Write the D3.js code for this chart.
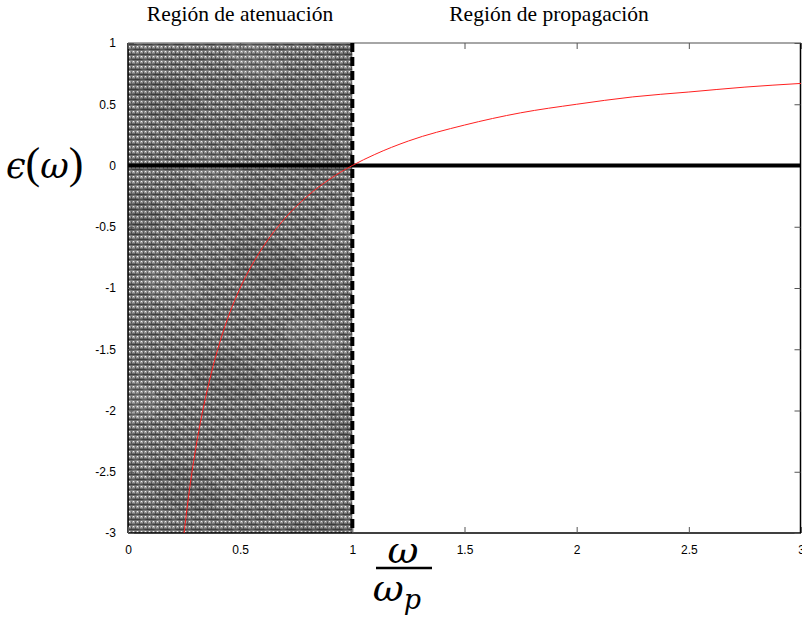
<!DOCTYPE html>
<html>
<head>
<meta charset="utf-8">
<script src="https://cdn.jsdelivr.net/npm/d3@7"></script>
<style>
  body { margin: 0; background: #fff; }
  svg { display: block; }
</style>
</head>
<body>
<div id="chart"></div>
<script>
// Permittivity curve
const omegaRatio = [0.25, 0.27, 0.3, 0.33, 0.36, 0.4, 0.45, 0.5, 0.6, 0.7, 0.8, 0.9, 1.0, 1.1, 1.25, 1.5, 1.75, 2.0, 2.25, 2.5, 2.75, 3.0]
const epsilonValues = [-3.0, -2.7, -2.33, -2.03, -1.78, -1.5, -1.22, -1.0, -0.67, -0.43, -0.25, -0.11, 0.0, 0.09, 0.2, 0.33, 0.43, 0.5, 0.56, 0.6, 0.64, 0.67]

const xTicks = [0, 0.5, 1, 1.5, 2, 2.5, 3]
const yTicks = [1, 0.5, 0, -0.5, -1, -1.5, -2, -2.5, -3]
const regionTitles = ["Región de atenuación", "Región de propagación"]
const regionBounds = [[0, 1], [1, 3]]

const width = 802, height = 620
const margin = { top: 43, right: 1, bottom: 87, left: 128 }

const svg = d3.select("#chart").append("svg")
  .attr("width", width)
  .attr("height", height)

const x = d3.scaleLinear().domain([0, 3]).range([margin.left, width - margin.right])
const y = d3.scaleLinear().domain([-3, 1]).range([height - margin.bottom, margin.top])

// Woven fabric texture for the attenuation region
const defs = svg.append("defs")
const weave = defs.append("pattern")
  .attr("id", "weave")
  .attr("patternUnits", "userSpaceOnUse")
  .attr("width", 4).attr("height", 5)
weave.append("rect").attr("width", 4).attr("height", 5).attr("fill", "#6c6c6c")
weave.append("rect").attr("y", 4).attr("width", 4).attr("height", 1).attr("fill", "#3e3e3e")
weave.append("rect").attr("x", 0).attr("y", 1).attr("width", 3).attr("height", 2).attr("fill", "#989898")
weave.append("rect").attr("x", 1).attr("y", 1).attr("width", 1).attr("height", 1).attr("fill", "#f2f2f2")
weave.append("rect").attr("x", 3).attr("y", 2).attr("width", 1).attr("height", 2).attr("fill", "#505050")

const diag = defs.append("pattern")
  .attr("id", "diag")
  .attr("patternUnits", "userSpaceOnUse")
  .attr("width", 9).attr("height", 9)
  .attr("patternTransform", "rotate(35)")
diag.append("rect").attr("width", 9).attr("height", 3).attr("fill", "#ffffff").attr("opacity", 0.1)

const blotch = defs.append("pattern")
  .attr("id", "blotch")
  .attr("patternUnits", "userSpaceOnUse")
  .attr("width", 150).attr("height", 120)
  .attr("patternTransform", "rotate(20)")
blotch.append("ellipse").attr("cx", 40).attr("cy", 35).attr("rx", 38).attr("ry", 22).attr("fill", "#000").attr("opacity", 0.08)
blotch.append("ellipse").attr("cx", 110).attr("cy", 90).attr("rx", 30).attr("ry", 18).attr("fill", "#fff").attr("opacity", 0.07)

const attn = regionBounds[0]
;["url(#weave)", "url(#diag)", "url(#blotch)"].forEach(f => {
  svg.append("rect")
    .attr("x", x(attn[0]))
    .attr("y", y(1))
    .attr("width", x(attn[1]) - x(attn[0]))
    .attr("height", y(-3) - y(1))
    .attr("fill", f)
})

// Frame
const frame = svg.append("g")
frame.append("line").attr("x1", x(0)).attr("x2", x(3)).attr("y1", y(1)).attr("y2", y(1))
  .attr("stroke", "#888").attr("stroke-width", 1.5)
frame.append("line").attr("x1", x(3) - 0.5).attr("x2", x(3) - 0.5).attr("y1", y(1)).attr("y2", y(-3))
  .attr("stroke", "#000").attr("stroke-width", 1.5)
frame.append("line").attr("x1", x(0)).attr("x2", x(3)).attr("y1", y(-3)).attr("y2", y(-3))
  .attr("stroke", "#000").attr("stroke-width", 1.5)
frame.append("line").attr("x1", x(0)).attr("x2", x(0)).attr("y1", y(1)).attr("y2", y(-3))
  .attr("stroke", "#000").attr("stroke-width", 1.5)

// Axes with inward ticks
const tickFmt = d => String(d)
const axisStyle = g => {
  g.select(".domain").remove()
  g.selectAll(".tick line").attr("stroke", "#555")
  g.selectAll(".tick text")
    .attr("fill", "#000")
    .style("font-family", "'Liberation Sans', Arial, sans-serif")
    .style("font-size", "12px")
}

svg.append("g")
  .attr("transform", `translate(0,${y(-3)})`)
  .call(d3.axisBottom(x).tickValues(xTicks).tickFormat(tickFmt).tickSizeInner(-6).tickPadding(12))
  .call(axisStyle)

svg.append("g")
  .attr("transform", `translate(0,${y(1)})`)
  .call(d3.axisTop(x).tickValues(xTicks).tickFormat("").tickSizeInner(-6))
  .call(axisStyle)

svg.append("g")
  .attr("transform", `translate(${x(0)},0)`)
  .call(d3.axisLeft(y).tickValues(yTicks).tickFormat(tickFmt).tickSizeInner(-6).tickPadding(12))
  .call(axisStyle)

svg.append("g")
  .attr("transform", `translate(${x(3) - 0.5},0)`)
  .call(d3.axisRight(y).tickValues(yTicks).tickFormat("").tickSizeInner(-6))
  .call(axisStyle)

// Zero line
svg.append("line")
  .attr("x1", x(0)).attr("x2", x(3))
  .attr("y1", y(0)).attr("y2", y(0))
  .attr("stroke", "#000").attr("stroke-width", 4)

// Plasma frequency boundary
svg.append("line")
  .attr("x1", x(1)).attr("x2", x(1))
  .attr("y1", y(1)).attr("y2", y(-3))
  .attr("stroke", "#000").attr("stroke-width", 4)
  .attr("stroke-dasharray", "9,5")

// Curve
const points = omegaRatio.map((w, i) => ({ w, e: epsilonValues[i] }))
const line = d3.line()
  .x(d => x(d.w))
  .y(d => y(d.e))
  .curve(d3.curveMonotoneX)
svg.append("path")
  .datum(points)
  .attr("fill", "none")
  .attr("stroke", "#ff2020")
  .attr("stroke-width", 1)
  .attr("d", line)

// Region titles
svg.selectAll(".region-title")
  .data(regionTitles)
  .enter()
  .append("text")
  .attr("class", "region-title")
  .attr("x", (d, i) => i === 0 ? 240 : 549)
  .attr("y", 21)
  .attr("text-anchor", "middle")
  .style("font-family", "'Liberation Serif', 'Times New Roman', serif")
  .style("font-size", "21.5px")
  .text(d => d)

// Y label: ϵ(ω)
const yLabel = svg.append("text")
  .attr("x", 6)
  .attr("y", 178)
  .style("font-family", "'DejaVu Serif', serif")
  .style("font-size", "35px")
yLabel.append("tspan").style("font-style", "italic").text("ϵ")
yLabel.append("tspan").attr("font-family", "'Liberation Serif', serif").style("font-size", "44px").style("font-weight", "300").text("(")
yLabel.append("tspan").style("font-style", "italic").text("ω")
yLabel.append("tspan").attr("font-family", "'Liberation Serif', serif").style("font-size", "44px").style("font-weight", "300").text(")")

// X label: ω / ωp
const xl = svg.append("g")
  .style("font-family", "'DejaVu Serif', serif")
  .style("font-style", "italic")
xl.append("text")
  .attr("x", 403).attr("y", 563)
  .attr("text-anchor", "middle")
  .style("font-size", "38px")
  .text("ω")
xl.append("line")
  .attr("x1", 376).attr("x2", 432)
  .attr("y1", 568).attr("y2", 568)
  .attr("stroke", "#000").attr("stroke-width", 2.5)
const den = xl.append("text")
  .attr("x", 397).attr("y", 601)
  .attr("text-anchor", "middle")
  .style("font-size", "38px")
den.append("tspan").text("ω")
den.append("tspan").attr("dy", 8).style("font-size", "27px").text("p")
</script>
</body>
</html>
